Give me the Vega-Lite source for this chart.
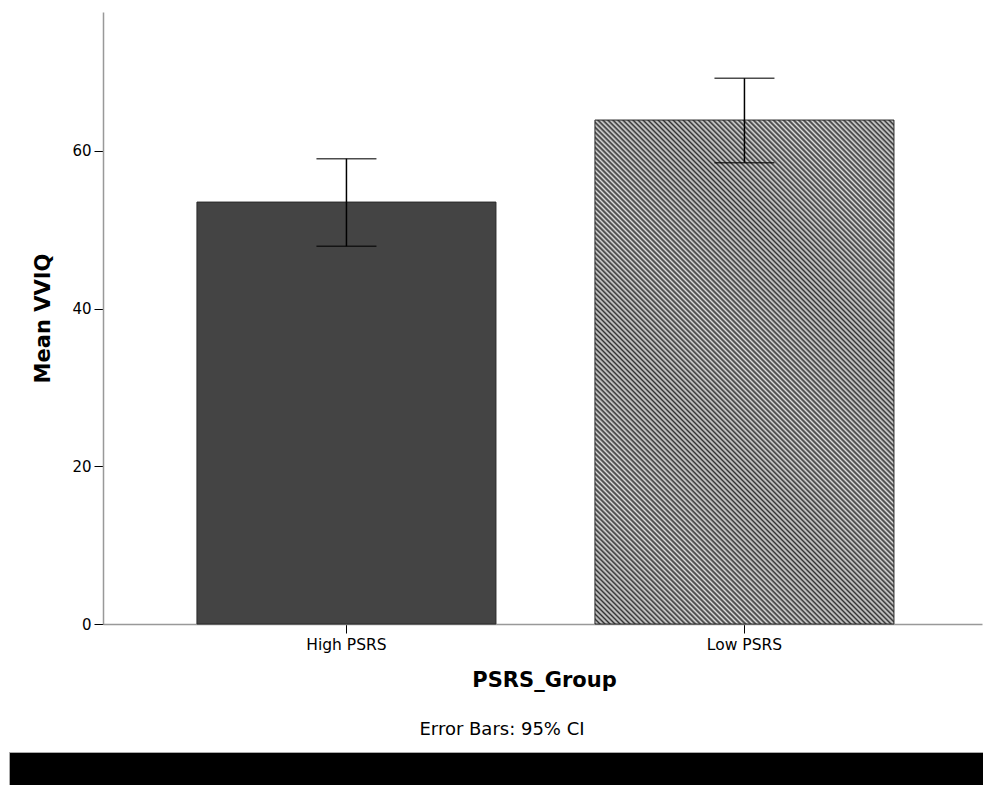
{
"$schema": "https://vega.github.io/schema/vega-lite/v6.json",
"padding": {"left": 8, "top": 12, "right": 0, "bottom": 0},
"background": "white",
"spacing": 29,
"config": {"font": "DejaVu Sans", "view": {"stroke": null}},
"vconcat": [
{
"width": 973,
"height": 612,
"data": {"values": [
{"group": "High PSRS", "mean": 53.5, "lo": 47.9, "hi": 59.0},
{"group": "Low PSRS", "mean": 63.9, "lo": 58.5, "hi": 69.2}
]},
"encoding": {
"x": {"field": "group", "type": "nominal", "sort": null,
"scale": {"paddingInner": 0.2487, "paddingOuter": 0.3467, "align": 0.681},
"axis": {"title": "PSRS_Group", "titleX": 535, "labelAngle": 0, "tickSize": 9, "tickColor": "black", "tickWidth": 1, "domainColor": "#999", "domainWidth": 1.5, "domainDash": [0, 94, 881, 0], "labelFontSize": 15.5, "labelColor": "black", "labelPadding": 4, "titleFontSize": 21, "titleFontWeight": "bold", "titleColor": "black", "titlePadding": 17}}
},
"layer": [
{"mark": {"type": "bar", "stroke": "#2a2a2a", "strokeWidth": 1},
"encoding": {
"y": {"field": "mean", "type": "quantitative", "scale": {"domain": [0, 77.6], "nice": false},
"axis": {"title": "Mean VVIQ", "offset": -94, "values": [0, 20, 40, 60], "grid": false, "tickSize": 9, "tickColor": "black", "tickWidth": 1, "domainColor": "#999", "domainWidth": 1.5, "labelFontSize": 15, "labelColor": "black", "labelPadding": 3, "titleFontSize": 21, "titleFontWeight": "bold", "titleColor": "black", "titlePadding": 18}},
"fill": {"condition": {"test": "datum.group === 'Low PSRS'", "value": {"gradient": "linear", "x1": 0, "y1": 1, "x2": 0.699, "y2": -0.1785, "stops": [
{"offset":0,"color":"#333"},{"offset":0.003125,"color":"#ddd"},{"offset":0.00625,"color":"#333"},{"offset":0.009375,"color":"#ddd"},{"offset":0.0125,"color":"#333"},{"offset":0.015625,"color":"#ddd"},{"offset":0.01875,"color":"#333"},{"offset":0.021875,"color":"#ddd"},
{"offset":0.025,"color":"#333"},{"offset":0.028125,"color":"#ddd"},{"offset":0.03125,"color":"#333"},{"offset":0.034375,"color":"#ddd"},{"offset":0.0375,"color":"#333"},{"offset":0.040625,"color":"#ddd"},{"offset":0.04375,"color":"#333"},{"offset":0.046875,"color":"#ddd"},
{"offset":0.05,"color":"#333"},{"offset":0.053125,"color":"#ddd"},{"offset":0.05625,"color":"#333"},{"offset":0.059375,"color":"#ddd"},{"offset":0.0625,"color":"#333"},{"offset":0.065625,"color":"#ddd"},{"offset":0.06875,"color":"#333"},{"offset":0.071875,"color":"#ddd"},
{"offset":0.075,"color":"#333"},{"offset":0.078125,"color":"#ddd"},{"offset":0.08125,"color":"#333"},{"offset":0.084375,"color":"#ddd"},{"offset":0.0875,"color":"#333"},{"offset":0.090625,"color":"#ddd"},{"offset":0.09375,"color":"#333"},{"offset":0.096875,"color":"#ddd"},
{"offset":0.1,"color":"#333"},{"offset":0.103125,"color":"#ddd"},{"offset":0.10625,"color":"#333"},{"offset":0.109375,"color":"#ddd"},{"offset":0.1125,"color":"#333"},{"offset":0.115625,"color":"#ddd"},{"offset":0.11875,"color":"#333"},{"offset":0.121875,"color":"#ddd"},
{"offset":0.125,"color":"#333"},{"offset":0.128125,"color":"#ddd"},{"offset":0.13125,"color":"#333"},{"offset":0.134375,"color":"#ddd"},{"offset":0.1375,"color":"#333"},{"offset":0.140625,"color":"#ddd"},{"offset":0.14375,"color":"#333"},{"offset":0.146875,"color":"#ddd"},
{"offset":0.15,"color":"#333"},{"offset":0.153125,"color":"#ddd"},{"offset":0.15625,"color":"#333"},{"offset":0.159375,"color":"#ddd"},{"offset":0.1625,"color":"#333"},{"offset":0.165625,"color":"#ddd"},{"offset":0.16875,"color":"#333"},{"offset":0.171875,"color":"#ddd"},
{"offset":0.175,"color":"#333"},{"offset":0.178125,"color":"#ddd"},{"offset":0.18125,"color":"#333"},{"offset":0.184375,"color":"#ddd"},{"offset":0.1875,"color":"#333"},{"offset":0.190625,"color":"#ddd"},{"offset":0.19375,"color":"#333"},{"offset":0.196875,"color":"#ddd"},
{"offset":0.2,"color":"#333"},{"offset":0.203125,"color":"#ddd"},{"offset":0.20625,"color":"#333"},{"offset":0.209375,"color":"#ddd"},{"offset":0.2125,"color":"#333"},{"offset":0.215625,"color":"#ddd"},{"offset":0.21875,"color":"#333"},{"offset":0.221875,"color":"#ddd"},
{"offset":0.225,"color":"#333"},{"offset":0.228125,"color":"#ddd"},{"offset":0.23125,"color":"#333"},{"offset":0.234375,"color":"#ddd"},{"offset":0.2375,"color":"#333"},{"offset":0.240625,"color":"#ddd"},{"offset":0.24375,"color":"#333"},{"offset":0.246875,"color":"#ddd"},
{"offset":0.25,"color":"#333"},{"offset":0.253125,"color":"#ddd"},{"offset":0.25625,"color":"#333"},{"offset":0.259375,"color":"#ddd"},{"offset":0.2625,"color":"#333"},{"offset":0.265625,"color":"#ddd"},{"offset":0.26875,"color":"#333"},{"offset":0.271875,"color":"#ddd"},
{"offset":0.275,"color":"#333"},{"offset":0.278125,"color":"#ddd"},{"offset":0.28125,"color":"#333"},{"offset":0.284375,"color":"#ddd"},{"offset":0.2875,"color":"#333"},{"offset":0.290625,"color":"#ddd"},{"offset":0.29375,"color":"#333"},{"offset":0.296875,"color":"#ddd"},
{"offset":0.3,"color":"#333"},{"offset":0.303125,"color":"#ddd"},{"offset":0.30625,"color":"#333"},{"offset":0.309375,"color":"#ddd"},{"offset":0.3125,"color":"#333"},{"offset":0.315625,"color":"#ddd"},{"offset":0.31875,"color":"#333"},{"offset":0.321875,"color":"#ddd"},
{"offset":0.325,"color":"#333"},{"offset":0.328125,"color":"#ddd"},{"offset":0.33125,"color":"#333"},{"offset":0.334375,"color":"#ddd"},{"offset":0.3375,"color":"#333"},{"offset":0.340625,"color":"#ddd"},{"offset":0.34375,"color":"#333"},{"offset":0.346875,"color":"#ddd"},
{"offset":0.35,"color":"#333"},{"offset":0.353125,"color":"#ddd"},{"offset":0.35625,"color":"#333"},{"offset":0.359375,"color":"#ddd"},{"offset":0.3625,"color":"#333"},{"offset":0.365625,"color":"#ddd"},{"offset":0.36875,"color":"#333"},{"offset":0.371875,"color":"#ddd"},
{"offset":0.375,"color":"#333"},{"offset":0.378125,"color":"#ddd"},{"offset":0.38125,"color":"#333"},{"offset":0.384375,"color":"#ddd"},{"offset":0.3875,"color":"#333"},{"offset":0.390625,"color":"#ddd"},{"offset":0.39375,"color":"#333"},{"offset":0.396875,"color":"#ddd"},
{"offset":0.4,"color":"#333"},{"offset":0.403125,"color":"#ddd"},{"offset":0.40625,"color":"#333"},{"offset":0.409375,"color":"#ddd"},{"offset":0.4125,"color":"#333"},{"offset":0.415625,"color":"#ddd"},{"offset":0.41875,"color":"#333"},{"offset":0.421875,"color":"#ddd"},
{"offset":0.425,"color":"#333"},{"offset":0.428125,"color":"#ddd"},{"offset":0.43125,"color":"#333"},{"offset":0.434375,"color":"#ddd"},{"offset":0.4375,"color":"#333"},{"offset":0.440625,"color":"#ddd"},{"offset":0.44375,"color":"#333"},{"offset":0.446875,"color":"#ddd"},
{"offset":0.45,"color":"#333"},{"offset":0.453125,"color":"#ddd"},{"offset":0.45625,"color":"#333"},{"offset":0.459375,"color":"#ddd"},{"offset":0.4625,"color":"#333"},{"offset":0.465625,"color":"#ddd"},{"offset":0.46875,"color":"#333"},{"offset":0.471875,"color":"#ddd"},
{"offset":0.475,"color":"#333"},{"offset":0.478125,"color":"#ddd"},{"offset":0.48125,"color":"#333"},{"offset":0.484375,"color":"#ddd"},{"offset":0.4875,"color":"#333"},{"offset":0.490625,"color":"#ddd"},{"offset":0.49375,"color":"#333"},{"offset":0.496875,"color":"#ddd"},
{"offset":0.5,"color":"#333"},{"offset":0.503125,"color":"#ddd"},{"offset":0.50625,"color":"#333"},{"offset":0.509375,"color":"#ddd"},{"offset":0.5125,"color":"#333"},{"offset":0.515625,"color":"#ddd"},{"offset":0.51875,"color":"#333"},{"offset":0.521875,"color":"#ddd"},
{"offset":0.525,"color":"#333"},{"offset":0.528125,"color":"#ddd"},{"offset":0.53125,"color":"#333"},{"offset":0.534375,"color":"#ddd"},{"offset":0.5375,"color":"#333"},{"offset":0.540625,"color":"#ddd"},{"offset":0.54375,"color":"#333"},{"offset":0.546875,"color":"#ddd"},
{"offset":0.55,"color":"#333"},{"offset":0.553125,"color":"#ddd"},{"offset":0.55625,"color":"#333"},{"offset":0.559375,"color":"#ddd"},{"offset":0.5625,"color":"#333"},{"offset":0.565625,"color":"#ddd"},{"offset":0.56875,"color":"#333"},{"offset":0.571875,"color":"#ddd"},
{"offset":0.575,"color":"#333"},{"offset":0.578125,"color":"#ddd"},{"offset":0.58125,"color":"#333"},{"offset":0.584375,"color":"#ddd"},{"offset":0.5875,"color":"#333"},{"offset":0.590625,"color":"#ddd"},{"offset":0.59375,"color":"#333"},{"offset":0.596875,"color":"#ddd"},
{"offset":0.6,"color":"#333"},{"offset":0.603125,"color":"#ddd"},{"offset":0.60625,"color":"#333"},{"offset":0.609375,"color":"#ddd"},{"offset":0.6125,"color":"#333"},{"offset":0.615625,"color":"#ddd"},{"offset":0.61875,"color":"#333"},{"offset":0.621875,"color":"#ddd"},
{"offset":0.625,"color":"#333"},{"offset":0.628125,"color":"#ddd"},{"offset":0.63125,"color":"#333"},{"offset":0.634375,"color":"#ddd"},{"offset":0.6375,"color":"#333"},{"offset":0.640625,"color":"#ddd"},{"offset":0.64375,"color":"#333"},{"offset":0.646875,"color":"#ddd"},
{"offset":0.65,"color":"#333"},{"offset":0.653125,"color":"#ddd"},{"offset":0.65625,"color":"#333"},{"offset":0.659375,"color":"#ddd"},{"offset":0.6625,"color":"#333"},{"offset":0.665625,"color":"#ddd"},{"offset":0.66875,"color":"#333"},{"offset":0.671875,"color":"#ddd"},
{"offset":0.675,"color":"#333"},{"offset":0.678125,"color":"#ddd"},{"offset":0.68125,"color":"#333"},{"offset":0.684375,"color":"#ddd"},{"offset":0.6875,"color":"#333"},{"offset":0.690625,"color":"#ddd"},{"offset":0.69375,"color":"#333"},{"offset":0.696875,"color":"#ddd"},
{"offset":0.7,"color":"#333"},{"offset":0.703125,"color":"#ddd"},{"offset":0.70625,"color":"#333"},{"offset":0.709375,"color":"#ddd"},{"offset":0.7125,"color":"#333"},{"offset":0.715625,"color":"#ddd"},{"offset":0.71875,"color":"#333"},{"offset":0.721875,"color":"#ddd"},
{"offset":0.725,"color":"#333"},{"offset":0.728125,"color":"#ddd"},{"offset":0.73125,"color":"#333"},{"offset":0.734375,"color":"#ddd"},{"offset":0.7375,"color":"#333"},{"offset":0.740625,"color":"#ddd"},{"offset":0.74375,"color":"#333"},{"offset":0.746875,"color":"#ddd"},
{"offset":0.75,"color":"#333"},{"offset":0.753125,"color":"#ddd"},{"offset":0.75625,"color":"#333"},{"offset":0.759375,"color":"#ddd"},{"offset":0.7625,"color":"#333"},{"offset":0.765625,"color":"#ddd"},{"offset":0.76875,"color":"#333"},{"offset":0.771875,"color":"#ddd"},
{"offset":0.775,"color":"#333"},{"offset":0.778125,"color":"#ddd"},{"offset":0.78125,"color":"#333"},{"offset":0.784375,"color":"#ddd"},{"offset":0.7875,"color":"#333"},{"offset":0.790625,"color":"#ddd"},{"offset":0.79375,"color":"#333"},{"offset":0.796875,"color":"#ddd"},
{"offset":0.8,"color":"#333"},{"offset":0.803125,"color":"#ddd"},{"offset":0.80625,"color":"#333"},{"offset":0.809375,"color":"#ddd"},{"offset":0.8125,"color":"#333"},{"offset":0.815625,"color":"#ddd"},{"offset":0.81875,"color":"#333"},{"offset":0.821875,"color":"#ddd"},
{"offset":0.825,"color":"#333"},{"offset":0.828125,"color":"#ddd"},{"offset":0.83125,"color":"#333"},{"offset":0.834375,"color":"#ddd"},{"offset":0.8375,"color":"#333"},{"offset":0.840625,"color":"#ddd"},{"offset":0.84375,"color":"#333"},{"offset":0.846875,"color":"#ddd"},
{"offset":0.85,"color":"#333"},{"offset":0.853125,"color":"#ddd"},{"offset":0.85625,"color":"#333"},{"offset":0.859375,"color":"#ddd"},{"offset":0.8625,"color":"#333"},{"offset":0.865625,"color":"#ddd"},{"offset":0.86875,"color":"#333"},{"offset":0.871875,"color":"#ddd"},
{"offset":0.875,"color":"#333"},{"offset":0.878125,"color":"#ddd"},{"offset":0.88125,"color":"#333"},{"offset":0.884375,"color":"#ddd"},{"offset":0.8875,"color":"#333"},{"offset":0.890625,"color":"#ddd"},{"offset":0.89375,"color":"#333"},{"offset":0.896875,"color":"#ddd"},
{"offset":0.9,"color":"#333"},{"offset":0.903125,"color":"#ddd"},{"offset":0.90625,"color":"#333"},{"offset":0.909375,"color":"#ddd"},{"offset":0.9125,"color":"#333"},{"offset":0.915625,"color":"#ddd"},{"offset":0.91875,"color":"#333"},{"offset":0.921875,"color":"#ddd"},
{"offset":0.925,"color":"#333"},{"offset":0.928125,"color":"#ddd"},{"offset":0.93125,"color":"#333"},{"offset":0.934375,"color":"#ddd"},{"offset":0.9375,"color":"#333"},{"offset":0.940625,"color":"#ddd"},{"offset":0.94375,"color":"#333"},{"offset":0.946875,"color":"#ddd"},
{"offset":0.95,"color":"#333"},{"offset":0.953125,"color":"#ddd"},{"offset":0.95625,"color":"#333"},{"offset":0.959375,"color":"#ddd"},{"offset":0.9625,"color":"#333"},{"offset":0.965625,"color":"#ddd"},{"offset":0.96875,"color":"#333"},{"offset":0.971875,"color":"#ddd"},
{"offset":0.975,"color":"#333"},{"offset":0.978125,"color":"#ddd"},{"offset":0.98125,"color":"#333"},{"offset":0.984375,"color":"#ddd"},{"offset":0.9875,"color":"#333"},{"offset":0.990625,"color":"#ddd"},{"offset":0.99375,"color":"#333"},{"offset":0.996875,"color":"#ddd"},
{"offset":1,"color":"#333"}
]}}, "value": "#444444"}
}},
{"mark": {"type": "rule", "color": "black", "strokeWidth": 1.5},
"encoding": {"y": {"field": "lo", "type": "quantitative"}, "y2": {"field": "hi"}}},
{"mark": {"type": "tick", "color": "black", "thickness": 1.5, "size": 60},
"encoding": {"y": {"field": "lo", "type": "quantitative"}}},
{"mark": {"type": "tick", "color": "black", "thickness": 1.5, "size": 60},
"encoding": {"y": {"field": "hi", "type": "quantitative"}}}
]
},
{
"width": 977,
"height": 33,
"data": {"values": []},
"mark": {"type": "point", "opacity": 0},
"view": {"fill": "black", "stroke": "#aaa"},
"title": {"text": "Error Bars: 95% CI", "fontSize": 18, "fontWeight": "normal", "color": "black", "anchor": "middle", "offset": 13, "dx": 4.5, "font": "DejaVu Sans"}
}
]
}
